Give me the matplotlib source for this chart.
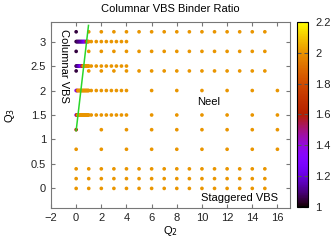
import matplotlib
matplotlib.use("Agg")
import matplotlib.pyplot as plt
import numpy as np

plt.rcParams["font.family"] = ["Liberation Sans", "DejaVu Sans"]

# simulation points (Q2, Q3) and binder ratio, row by row
DENSE_X = [0.0, 0.05, 0.1, 0.15, 0.2, 0.25, 0.3, 0.35, 0.4, 0.45, 0.5,
           0.55, 0.6, 0.65, 0.7, 0.75, 0.8, 0.85, 0.9, 0.95, 1.0]
STEP_X = [1.2, 1.6, 2.0, 2.4, 2.8, 3.2, 3.6, 4.0]
INT_X = [0, 1, 2, 3, 4, 5, 6, 7, 8, 9, 10, 11, 12, 13, 14, 15]
EVEN_X = [0, 2, 4, 6, 8, 10, 12, 14, 16]
FAR_X = [6, 8, 10, 12, 14, 16]

ROWS_Q3 = [0.0, 0.2, 0.4, 0.8, 1.2, 1.5, 2.0, 2.4, 2.5, 2.8, 3.0, 3.2]
ROWS_Q2 = [INT_X, INT_X, INT_X, EVEN_X, EVEN_X,
           DENSE_X + STEP_X + FAR_X, DENSE_X + STEP_X + FAR_X,
           INT_X, DENSE_X + STEP_X, INT_X, DENSE_X + STEP_X, INT_X]

ORANGE = 2.0
DENSE_30 = [1.05, 1.05, 1.08, 1.08, 1.1, 1.1, 1.12, 1.12, 1.15, 1.15, 1.18,
            1.2, 1.22, 1.25, 1.28, 1.35, 1.55, 1.7, 1.85, 1.95, 2.0]
DENSE_25 = [1.05, 1.08, 1.1, 1.12, 1.15, 1.18, 1.2, 1.25, 1.3, 1.5, 1.7,
            1.9] + [ORANGE] * 9
DENSE_20 = [1.3, 1.4, 1.8] + [ORANGE] * 18
DENSE_15 = [1.3, 1.6, 1.9] + [ORANGE] * 18
FIRST_VAL = {0.8: ORANGE, 1.2: 1.65, 2.4: 1.05, 2.8: 1.05, 3.2: 1.05}
ROW_DENSE = {1.5: DENSE_15, 2.0: DENSE_20, 2.5: DENSE_25, 3.0: DENSE_30}

# phase boundary
LINE_X = [0.0, 0.98]
LINE_Y = [1.18, 3.33]

xs, ys, vs = [], [], []
for q3, row in zip(ROWS_Q3, ROWS_Q2):
    for i, q2 in enumerate(row):
        if q3 in ROW_DENSE and i < len(DENSE_X):
            v = ROW_DENSE[q3][i]
        elif i == 0 and q3 in FIRST_VAL:
            v = FIRST_VAL[q3]
        else:
            v = ORANGE
        xs.append(q2)
        ys.append(q3)
        vs.append(v)

fig = plt.figure(figsize=(3.33, 2.4), dpi=100)
ax = fig.add_axes([51 / 333, 32 / 240, 239 / 333, 186 / 240])
cax = fig.add_axes([297 / 333, 33 / 240, 11 / 333, 185 / 240])

sc = ax.scatter(xs, ys, c=vs, cmap="gnuplot", vmin=1, vmax=2.2, s=7,
                linewidths=0, zorder=2)
ax.plot(LINE_X, LINE_Y, color="#2ad62a", lw=1.1, zorder=3)

ax.text(-1.0, 2.5, "Columnar VBS", rotation=-90, ha="center", va="center", fontsize=8)
ax.text(10.5, 1.77, "Neel", ha="center", va="center", fontsize=8)
ax.text(13.0, -0.19, "Staggered VBS", ha="center", va="center", fontsize=8)

ax.set_xlim(-2, 17)
ax.set_ylim(-0.4, 3.4)
ax.set_xticks([-2, 0, 2, 4, 6, 8, 10, 12, 14, 16])
ax.set_yticks([0, 0.5, 1, 1.5, 2, 2.5, 3])
ax.set_yticklabels(["0", "0.5", "1", "1.5", "2", "2.5", "3"])
ax.tick_params(direction="in", top=True, right=True, labelsize=8, length=3,
               color="#777777", labelcolor="#222222")
for sp in ax.spines.values():
    sp.set_color("#777777")
    sp.set_linewidth(0.8)

ax.set_title("Columnar VBS Binder Ratio", fontsize=8, pad=7)
ax.set_xlabel("Q$_2$", fontsize=8, labelpad=1)
ax.set_ylabel("Q$_3$", fontsize=8, labelpad=10)

cb = fig.colorbar(sc, cax=cax, ticks=[1, 1.2, 1.4, 1.6, 1.8, 2, 2.2])
cb.ax.set_yticklabels(["1", "1.2", "1.4", "1.6", "1.8", "2", "2.2"])
cb.ax.tick_params(direction="in", left=True, right=True, labelsize=8, length=3,
                  color="#555555", labelcolor="#222222", pad=5)
cb.outline.set_linewidth(0.8)

fig.savefig("out.png", dpi=100)
